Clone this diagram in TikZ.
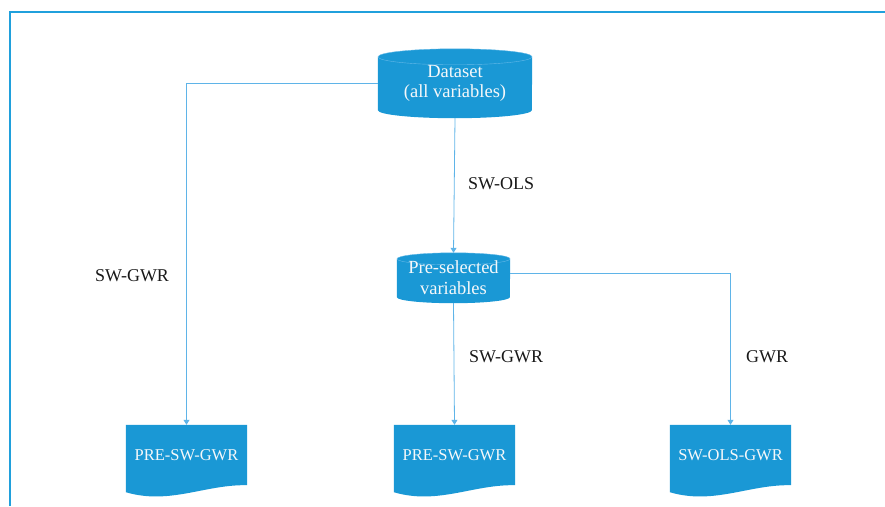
\documentclass[tikz,border=0pt]{standalone}
\usepackage{fontspec}
\setmainfont{Liberation Serif}
\newfontfamily\diagfont{Liberation Serif}
\usetikzlibrary{shapes.geometric, positioning, arrows.meta, calc, backgrounds}
\definecolor{boxblue}{RGB}{26,152,213}
\definecolor{edgeblue}{RGB}{100,185,232}
\definecolor{linkblue}{RGB}{95,180,232}
\definecolor{frameblue}{RGB}{32,160,220}
\definecolor{labeltext}{RGB}{245,248,250}

\begin{document}
\begin{tikzpicture}[
        x=1pt, y=-1pt,
        % Define styles
        store/.style={rectangle, inner sep=0pt, text=labeltext, align=center,
            font=\diagfont\fontsize{18.5}{21}\selectfont},
        doc/.style={rectangle, inner sep=0pt, minimum width=121pt, minimum height=60pt,
            text=labeltext, font=\diagfont\fontsize{16.5}{19}\selectfont},
        step label/.style={inner sep=0pt, text=black!90, font=\diagfont\fontsize{18}{21}\selectfont},
        arrow/.style={-{Triangle[width=6pt, length=5pt]}, draw=linkblue, line width=0.8pt}
    ]
    \useasboundingbox (0,0) rectangle (885,506);

    % Frame (top and left edges only)
    \draw[frameblue, line width=1.8pt] (10,506) -- (10,12) -- (885,12);

    % 1. Data stores
    \node[store, minimum width=154pt, minimum height=69pt] (ds) at (455,83.5) {Dataset\\[-1pt](all variables)};
    \node[store, minimum width=113pt, minimum height=50pt] (pre) at (453.5,278) {Pre-selected\\variables};

    % 2. Result documents
    \node[doc] (gwr1) at (186.5,455) {PRE-SW-GWR};
    \node[doc] (gwr2) at (454.5,455) {PRE-SW-GWR};
    \node[doc] (gwr3) at (730.5,455) {SW-OLS-GWR};

    % Shapes drawn behind the texts
    \begin{scope}[on background layer]
    % cylinders: node / half width / end radius
    \foreach \n/\r/\e in {ds/77/8, pre/56.5/6} {
        \fill[boxblue] ($(\n.north west)+(0,\e)$) -- ($(\n.south west)+(0,-\e)$)
            arc[start angle=180, end angle=360, x radius=\r pt, y radius=\e pt]
            -- ($(\n.north east)+(0,\e)$)
            arc[start angle=0, end angle=180, x radius=\r pt, y radius=\e pt] -- cycle;
        \draw[edgeblue, thin] ($(\n.north)+(0,\e)$) ellipse[x radius=\r pt, y radius=\e pt];
    }
    % documents with a wavy lower edge
    \foreach \n in {gwr1, gwr2, gwr3} {
        \fill[boxblue] (\n.north west) -- (\n.north east) -- (\n.south east)
            .. controls ($(\n.south east)+(-42,-1)$) and ($(\n.south west)+(44,20)$) .. ($(\n.south west)+(0,7)$) -- cycle;
    }
    \end{scope}

    % 3. Connectors
    \draw[arrow] (ds.west) -| (gwr1.north);
    \draw[arrow] (ds.south) -- (pre.north);
    \draw[arrow] (pre.south) -- (gwr2.north);
    \draw[arrow] ($(pre.east)+(0,-5)$) -| (gwr3.north);

    % 4. Method labels
    \node[step label] (l1) at (132,276) {SW-GWR};
    \node[step label] (l2) at (501,184) {SW-OLS};
    \node[step label] (l3) at (506,357) {SW-GWR};
    \node[step label] (l4) at (767,357) {GWR};

\end{tikzpicture}
\end{document}
